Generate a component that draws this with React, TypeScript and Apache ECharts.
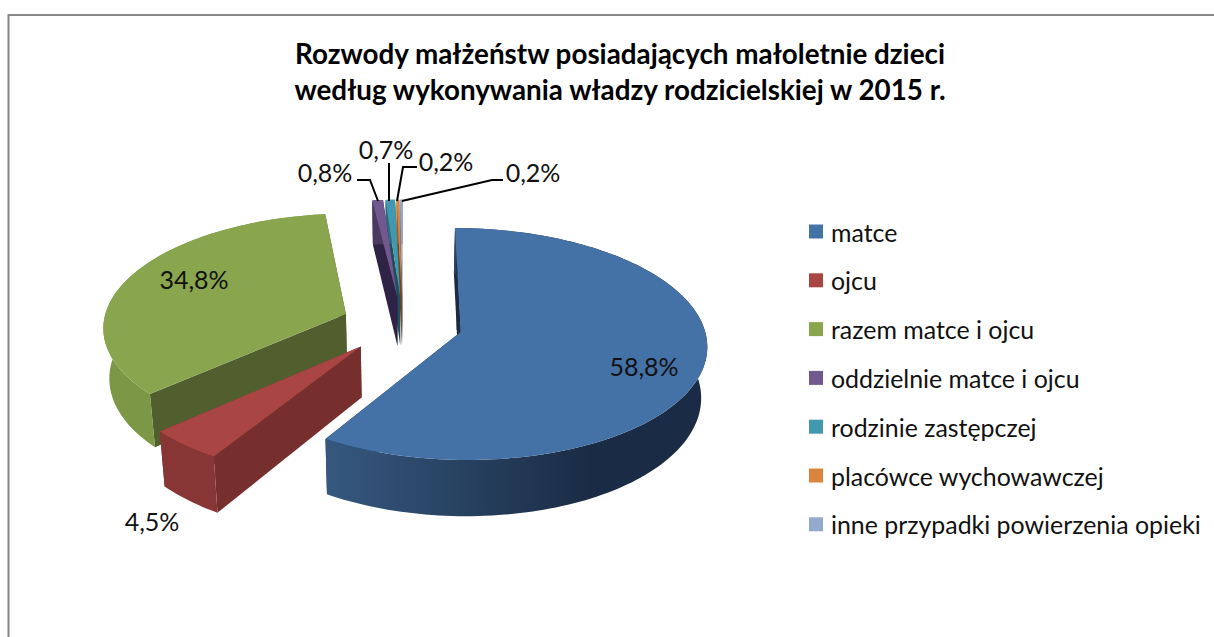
import React, { useEffect, useRef } from "react";
import * as echarts from "echarts";

const titleLines = [
  "Rozwody małżeństw posiadających małoletnie dzieci",
  "według wykonywania władzy rodzicielskiej w 2015 r.",
];
const categories = [
  "matce",
  "ojcu",
  "razem matce i ojcu",
  "oddzielnie matce i ojcu",
  "rodzinie zastępczej",
  "placówce wychowawczej",
  "inne przypadki powierzenia opieki",
];
const values = [58.8, 4.5, 34.8, 0.8, 0.7, 0.2, 0.2];

const topColors = ["#4471A6", "#A94543", "#89A54E", "#71588F", "#4198AF", "#DB843D", "#93A9CF"];
const wallColors = ["#1A2C45", "#772F2E", "#515F2E", "#2E2344", "#1F4E5C", "#7A4418", "#4F5F7E"];
const arcColors = ["#36587F", "#873635", "#7C9746", "#4B3A60", "#2E6C7D", "#A0602B", "#6B7B99"];
const paintOrder = [3, 5, 2, 7, 6, 4, 3];
const sliceNudgeX = [0, 0, 2, 2, 2, 2, 2];
const sliceNudgeY = [0, 0, 0, 1, 1, 1, 1];

const FONT = "Lato";
const VIEW = { cx: 401, cy: 324, a: 242.8, b: 113, persp: 0.104, explode: 0.2535, depth: 50, baseScale: 0.98 };
const LABELS = [
  { x: 644, y: 366 },
  { x: 152, y: 521 },
  { x: 194, y: 279 },
  { x: 325, y: 172 },
  { x: 386, y: 149 },
  { x: 446, y: 161 },
  { x: 533, y: 172 },
];
const LEADERS: (number[][] | null)[] = [
  null,
  null,
  null,
  [[357, 180], [370, 180], [378, 201]],
  [[389, 163], [389, 201]],
  [[417, 167], [403, 167], [397, 201]],
  [[503, 180], [492, 180], [402, 201]],
];

const total = values.reduce((s, v) => s + v, 0);
const fmt = (v: number) => v.toFixed(1).replace(".", ",") + "%";

function project(X: number, Z: number, base: boolean): number[] {
  const w = 1 + VIEW.persp * Z;
  const s = base ? VIEW.baseScale : 1;
  return [VIEW.cx + (VIEW.a * s * X) / w, VIEW.cy - (VIEW.b * Z) / w + (base ? VIEW.depth / w : 0)];
}

function renderSlice(index: number) {
  const before = values.slice(0, index).reduce((s, v) => s + v, 0);
  const a0 = (before / total) * Math.PI * 2;
  const a1 = ((before + values[index]) / total) * Math.PI * 2;
  const mid = (a0 + a1) / 2;
  const ox = Math.sin(mid) * VIEW.explode;
  const oz = Math.cos(mid) * VIEW.explode;
  const steps = Math.max(3, Math.ceil((a1 - a0) * 40));
  const rim = (base: boolean) => {
    const out: number[][] = [];
    for (let i = 0; i <= steps; i++) {
      const t = a0 + ((a1 - a0) * i) / steps;
      out.push(project(ox + Math.sin(t), oz + Math.cos(t), base));
    }
    return out;
  };
  const topRim = rim(false);
  const baseRim = rim(true);
  const apexTop = project(ox, oz, false);
  const apexBase = project(ox, oz, true);
  const poly = (points: number[][], fill: any) => ({
    type: "polygon",
    shape: { points },
    style: { fill, stroke: null },
    silent: true,
  });
  const startWall = [apexTop, topRim[0], baseRim[0], apexBase];
  const endWall = [apexTop, topRim[steps], baseRim[steps], apexBase];
  const arcFill =
    index === 0
      ? new echarts.graphic.LinearGradient(325, 0, 590, 0, [
          { offset: 0, color: arcColors[0] },
          { offset: 1, color: wallColors[0] },
        ], true)
      : arcColors[index];
  const children: any[] = [];
  const startIsBack = Math.cos(a0) > Math.cos(a1);
  const backWall = startIsBack ? startWall : endWall;
  const frontWall = startIsBack ? endWall : startWall;
  children.push(poly(backWall, wallColors[index]));
  children.push(poly(frontWall, wallColors[index]));
  children.push(poly([...topRim, ...baseRim.slice().reverse()], arcFill));
  children.push(poly([apexTop, ...topRim], topColors[index]));
  if (index === 0) {
    const o = topRim[0];
    const k = 0.24;
    children.push(
      poly(
        [
          [o[0] + (apexTop[0] - o[0]) * k, o[1] + (apexTop[1] - o[1]) * k],
          [apexTop[0] - 4, apexTop[1] - 2],
          apexTop,
        ],
        wallColors[0],
      ),
    );
  }
  return { type: "group", x: sliceNudgeX[index], y: sliceNudgeY[index], children };
}

export default function App() {
  const ref = useRef<HTMLDivElement>(null);
  useEffect(() => {
    const chart = echarts.init(ref.current!, undefined, { renderer: "svg" });
    const graphics: any[] = [
      {
        type: "polyline",
        shape: { points: [[8.5, 640], [8.5, 15], [1216, 15]] },
        style: { stroke: "#868686", lineWidth: 2, fill: null },
        z: 1,
        silent: true,
      },
    ];
    values.forEach((v, i) => {
      const leader = LEADERS[i];
      if (leader) {
        graphics.push({
          type: "polyline",
          shape: { points: leader },
          style: { stroke: "#000000", lineWidth: 2, fill: null },
          z: 20,
          silent: true,
        });
      }
      graphics.push({
        type: "text",
        x: LABELS[i].x,
        y: LABELS[i].y,
        z: 21,
        silent: true,
        style: {
          text: fmt(v),
          fill: "#111111",
          font: `25px ${FONT}`,
          align: "center",
          verticalAlign: "middle",
        },
      });
    });
    chart.setOption({
      animation: false,
      backgroundColor: "#ffffff",
      color: topColors,
      title: {
        text: titleLines.join("\n"),
        left: 615,
        top: 30,
        textAlign: "center",
        textStyle: { fontFamily: FONT, fontWeight: "bold", fontSize: 27.8, lineHeight: 36, color: "#000000" },
      },
      legend: {
        orient: "vertical",
        left: 809,
        top: 219,
        padding: 0,
        itemWidth: 14,
        itemHeight: 14,
        itemGap: 23.8,
        icon: "rect",
        data: categories,
        selectedMode: false,
        textStyle: { fontFamily: FONT, fontSize: 24.9, lineHeight: 22, color: "#111111", padding: [0, 0, 0, 3] },
      },
      graphic: graphics,
      series: categories.map((name, i) => ({
        type: "custom",
        name,
        coordinateSystem: "none",
        silent: true,
        z: paintOrder[i],
        itemStyle: { color: topColors[i] },
        data: [[values[i]]],
        renderItem: () => renderSlice(i),
      })),
    });
    return () => chart.dispose();
  }, []);
  return <div ref={ref} style={{ position: "absolute", left: 0, top: 0, width: 1214, height: 637 }} />;
}
